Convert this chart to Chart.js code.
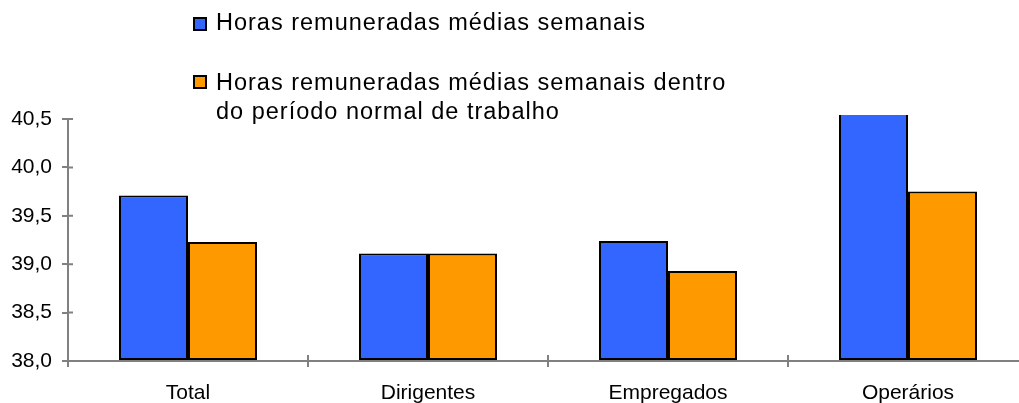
<!DOCTYPE html>
<html>
<head>
<meta charset="utf-8">
<script src="https://cdn.jsdelivr.net/npm/chart.js@4"></script>
<style>
  html, body { margin: 0; padding: 0; background: #fff; }
  #wrap { position: relative; width: 1019px; height: 403px; overflow: hidden; }
  #chart { position: absolute; left: 0; top: 0; }
  .leg { position: absolute; font-family: "Liberation Sans", Arial, sans-serif; font-size: 23.5px;
         letter-spacing: 1px; line-height: 29px; color: #000; white-space: nowrap; }
  .box { position: absolute; width: 10px; height: 10px; border: 2px solid #000; }
</style>
</head>
<body>
<div id="wrap">
  <canvas id="chart" width="1040" height="403"></canvas>
  <div class="box" style="left:193px; top:17px; background:#3366FF"></div>
  <div class="leg" style="left:216px; top:8px">Horas remuneradas médias semanais</div>
  <div class="box" style="left:193px; top:75px; background:#FF9900"></div>
  <div class="leg" style="left:216px; top:68px">Horas remuneradas médias semanais dentro<br>do período normal de trabalho</div>
</div>
<script>
const categories = ['Total', 'Dirigentes', 'Empregados', 'Operários'];
const horasSemanais = [39.71, 39.11, 39.24, 40.62];
const horasPeriodoNormal = [39.23, 39.11, 38.93, 39.75];
const yMin = 38.0;
const yMax = 40.5;
const yStep = 0.5;

const axisColor = '#808080';
const font = { family: '"Liberation Sans", Arial, sans-serif', size: 21 };

// Excel-style "cross" tick marks: Chart.js draws the outer half, this adds the inner half
const innerTicks = {
  id: 'innerTicks',
  afterDraw(chart) {
    const { ctx, chartArea } = chart;
    const x = chart.scales.x, y = chart.scales.y;
    ctx.save();
    ctx.strokeStyle = axisColor;
    ctx.lineWidth = 2;
    ctx.beginPath();
    y.ticks.forEach((t, i) => {
      const py = y.getPixelForTick(i);
      ctx.moveTo(chartArea.left, py);
      ctx.lineTo(chartArea.left + 5, py);
    });
    for (let i = 0; i < categories.length - 1; i++) {
      const px = (x.getPixelForTick(i) + x.getPixelForTick(i + 1)) / 2;
      ctx.moveTo(px, chartArea.bottom);
      ctx.lineTo(px, chartArea.bottom - 6);
    }
    ctx.stroke();
    ctx.restore();
  }
};

new Chart(document.getElementById('chart'), {
  type: 'bar',
  data: {
    labels: categories,
    datasets: [
      {
        label: 'Horas remuneradas médias semanais',
        data: horasSemanais,
        backgroundColor: '#3366FF',
        borderColor: '#000',
        borderWidth: 2,
        borderSkipped: false,
        base: yMin,
        clip: 4
      },
      {
        label: 'Horas remuneradas médias semanais dentro do período normal de trabalho',
        data: horasPeriodoNormal,
        backgroundColor: '#FF9900',
        borderColor: '#000',
        borderWidth: 2,
        borderSkipped: false,
        base: yMin,
        clip: 4
      }
    ]
  },
  options: {
    responsive: false,
    animation: false,
    layout: { padding: { top: 119, right: 12, left: 0, bottom: 0 } },
    datasets: { bar: { categoryPercentage: 0.575, barPercentage: 1 } },
    plugins: { legend: { display: false }, tooltip: { enabled: false } },
    scales: {
      x: {
        grid: { display: true, drawOnChartArea: false, drawTicks: true, tickLength: 6, color: axisColor, lineWidth: 2 },
        border: { display: true, color: axisColor, width: 2 },
        ticks: { color: '#000', font: font, padding: 14, maxRotation: 0 },
        afterFit(scale) { scale.height = 42; }
      },
      y: {
        min: yMin,
        max: yMax,
        grid: { display: true, drawOnChartArea: false, drawTicks: true, tickLength: 6, color: axisColor, lineWidth: 2 },
        border: { display: true, color: axisColor, width: 2 },
        ticks: {
          stepSize: yStep,
          color: '#000',
          font: font,
          padding: 10,
          callback: v => v.toFixed(1).replace('.', ',')
        },
        afterFit(scale) { scale.width = 68; }
      }
    }
  },
  plugins: [innerTicks]
});
</script>
</body>
</html>
